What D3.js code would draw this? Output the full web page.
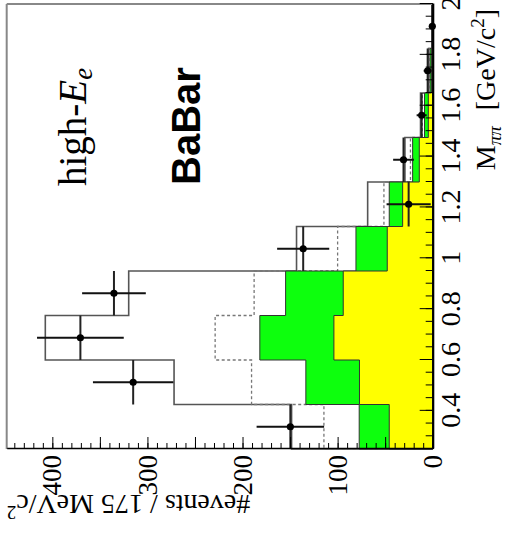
<!DOCTYPE html>
<html>
<head>
<meta charset="utf-8">
<script src="https://cdn.jsdelivr.net/npm/d3@7"></script>
<style>
  html, body { margin: 0; padding: 0; background: #fff; }
  svg { display: block; }
</style>
</head>
<body>
<svg id="chart" width="507" height="539"></svg>
<script>
// M(pi pi) binning, GeV/c^2 (175 MeV bins)
const binEdges = [0.25, 0.425, 0.6, 0.775, 0.95, 1.125, 1.3, 1.475, 1.65, 1.825, 2.0];

// stacked background components (events / bin)
const bkgYellow = [45.7, 77.0, 103.9, 94.1, 47.8, 31.6, 14.1, 4.6, 1.3, 0.2];
const bkgGreen  = [31.6, 56.4, 77.9, 60.6, 32.9, 14.1, 7.0, 4.0, 1.5, 0.2];

// total predictions drawn as outlines
const dashedTotal = [114.4, 190.5, 228.8, 187.8, 100.0, 51.3, 23.4, 10.9, 3.9, 0.5];
const solidTotal  = [148.4, 272.0, 407.4, 319.7, 143.2, 68.4, 29.2, 12.8, 4.4, 0.7];

// data with uncertainties
const dataCounts = [149.7, 315.0, 370.5, 335.2, 136.2, 25.3, 30.7, 11.6, 5.3, 0.4];
const dataErrors = [35.5, 42.3, 45.6, 33.5, 27.4, 23.2, 10.9, 5.3, 4.2, 1.5];

// axis ticks
const massTicks  = [0.4, 0.6, 0.8, 1, 1.2, 1.4, 1.6, 1.8, 2];
const countTicks = [0, 100, 200, 300, 400];

// The histogram is laid out in its natural frame (mass horizontal, counts vertical)
// and the whole frame is then turned a quarter turn counter-clockwise.
const W = 445, H = 426;
const svg = d3.select("#chart");
const g = svg.append("g").attr("transform", "translate(6.7,449) rotate(-90)");

const x = d3.scaleLinear().domain([0.25, 2.0]).range([0, W]);
const y = d3.scaleLinear().domain([0, 448]).range([H, 0]);

const nb = binEdges.length - 1;
const greenTop = bkgYellow.map((v, i) => v + bkgGreen[i]);

function stepPoints(vals) {
  const pts = vals.map((v, i) => [binEdges[i], v]);
  pts.push([binEdges[nb], vals[nb - 1]]);
  return pts;
}
const stepArea = d3.area().x(d => x(d[0])).y0(y(0)).y1(d => y(d[1])).curve(d3.curveStepAfter);

function outlinePath(vals) {
  // closed step outline down to zero at both ends
  const pts = [[binEdges[0], 0]].concat(vals.flatMap((v, i) => [[binEdges[i], v], [binEdges[i + 1], v]]));
  pts.push([binEdges[nb], 0]);
  return d3.line().x(d => x(d[0])).y(d => y(d[1]))(pts);
}

// solid total
g.append("path")
  .attr("d", outlinePath(solidTotal))
  .attr("fill", "none")
  .attr("stroke", "#555")
  .attr("stroke-width", 1.6);

// dashed total
g.append("path")
  .attr("d", outlinePath(dashedTotal))
  .attr("fill", "none")
  .attr("stroke", "#777")
  .attr("stroke-width", 1.3)
  .attr("stroke-dasharray", "3,2.5");

// green on top of yellow
g.append("path")
  .attr("d", stepArea(stepPoints(greenTop)))
  .attr("fill", "#0dff0d")
  .attr("stroke", "#333")
  .attr("stroke-width", 1);

g.append("path")
  .attr("d", stepArea(stepPoints(bkgYellow)))
  .attr("fill", "#ffff00")
  .attr("stroke", "#333")
  .attr("stroke-width", 1);

// data points
const pts = g.append("g").selectAll("g").data(dataCounts.map((c, i) => ({
  lo: binEdges[i], hi: binEdges[i + 1], c: c, e: dataErrors[i]
}))).join("g");

pts.append("line")
  .attr("x1", d => x(d.lo)).attr("x2", d => x(d.hi))
  .attr("y1", d => y(d.c)).attr("y2", d => y(d.c))
  .attr("stroke", "#222").attr("stroke-width", 2);
pts.append("line")
  .attr("x1", d => x((d.lo + d.hi) / 2)).attr("x2", d => x((d.lo + d.hi) / 2))
  .attr("y1", d => y(Math.max(0, d.c - d.e))).attr("y2", d => y(d.c + d.e))
  .attr("stroke", "#111").attr("stroke-width", 2);
pts.append("circle")
  .attr("cx", d => x((d.lo + d.hi) / 2))
  .attr("cy", d => y(d.c))
  .attr("r", 3.6)
  .attr("fill", "#000");

// frame (top & right of the natural frame)
g.append("line").attr("x1", 0).attr("x2", W).attr("y1", 0).attr("y2", 0)
  .attr("stroke", "#888").attr("stroke-width", 2);
g.append("line").attr("x1", W).attr("x2", W).attr("y1", 0).attr("y2", H)
  .attr("stroke", "#888").attr("stroke-width", 2);

// mass axis
const massMinor = d3.range(0.25, 2.0001, 0.05);
g.append("g").attr("transform", `translate(0,${H})`)
  .call(d3.axisBottom(x).tickValues(massMinor).tickSize(-7).tickFormat(""))
  .call(a => a.select(".domain").remove())
  .selectAll("line").attr("stroke", "#000");
const mAxis = g.append("g").attr("transform", `translate(0,${H})`)
  .call(d3.axisBottom(x).tickValues(massTicks).tickSize(-13).tickSizeOuter(0).tickPadding(7).tickFormat(d3.format("~g")));
mAxis.select(".domain").attr("stroke", "#000").attr("stroke-width", 2.2);
mAxis.selectAll("text")
  .attr("font-family", "'Liberation Serif', 'Times New Roman', serif")
  .attr("font-size", 28).attr("fill", "#000");

// counts axis
const countMinor = d3.range(0, 448, 10);
const countMajor = d3.range(0, 448, 50);
g.append("g")
  .call(d3.axisLeft(y).tickValues(countMinor).tickSize(-6).tickFormat(""))
  .call(a => a.select(".domain").remove())
  .selectAll("line").attr("stroke", "#000");
g.append("g")
  .call(d3.axisLeft(y).tickValues(countMajor).tickSize(-12).tickFormat(""))
  .call(a => a.select(".domain").remove())
  .selectAll("line").attr("stroke", "#000");
const cAxis = g.append("g")
  .call(d3.axisLeft(y).tickValues(countTicks).tickSize(0).tickSizeOuter(0).tickPadding(6));
cAxis.select(".domain").attr("stroke", "#000").attr("stroke-width", 1.6);
cAxis.selectAll("text")
  .attr("font-family", "'Liberation Serif', 'Times New Roman', serif")
  .attr("font-size", 27).attr("fill", "#000");

// axis titles
const serif = "'Liberation Serif', 'Times New Roman', serif";
const mTitle = g.append("text")
  .attr("x", W - 5).attr("y", H + 62)
  .attr("text-anchor", "end")
  .attr("font-family", serif).attr("font-size", 28);
mTitle.append("tspan").text("M");
mTitle.append("tspan").attr("dy", 6).attr("font-size", 19).attr("font-style", "italic").text("ππ");
mTitle.append("tspan").attr("dy", -6).attr("dx", 16).text("[GeV/c");
mTitle.append("tspan").attr("dy", -11).attr("font-size", 19).text("2");
mTitle.append("tspan").attr("dy", 11).text("]");

const cTitle = g.append("text")
  .attr("transform", "translate(-46,0) rotate(-90)")
  .attr("text-anchor", "end")
  .attr("font-family", serif).attr("font-size", 28);
cTitle.append("tspan").text("#events / 175 MeV/c");
cTitle.append("tspan").attr("dy", -11).attr("font-size", 19).text("2");

// annotations
const ann = g.append("text")
  .attr("x", 263).attr("y", 79)
  .attr("font-family", serif).attr("font-size", 39);
ann.append("tspan").text("high-");
ann.append("tspan").attr("font-style", "italic").text("E");
ann.append("tspan").attr("font-style", "italic").attr("font-size", 27).attr("dy", 6).text("e");

g.append("text")
  .attr("x", 264).attr("y", 193)
  .attr("font-family", "'Liberation Sans', Arial, sans-serif")
  .attr("font-weight", "bold").attr("font-size", 40)
  .text("BaBar");
</script>
</body>
</html>
